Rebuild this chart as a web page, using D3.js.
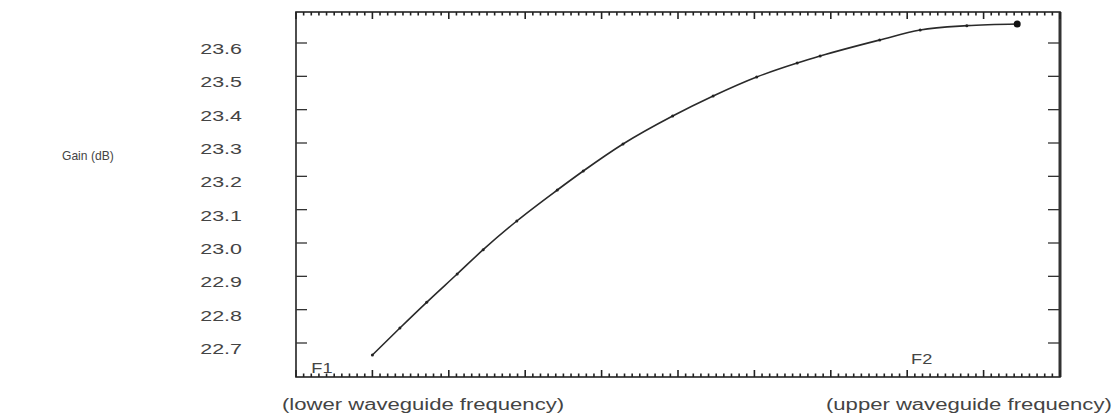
<!DOCTYPE html>
<html>
<head>
<meta charset="utf-8">
<script src="https://cdn.jsdelivr.net/npm/d3@7"></script>
<style>
  body { margin: 0; background: #fff; }
  text { font-family: "Liberation Sans", Arial, sans-serif; fill: #444; }
</style>
</head>
<body>
<div id="container"></div>
<script>
// frequency position (0..100 across the sweep) and measured gain
var freq = [10, 13.6, 17.1, 21.1, 24.5, 28.9, 34.2, 37.6, 42.8, 49.3, 54.6, 60.3, 65.6, 68.6, 76.4, 81.7, 87.8, 94.4];
var gain = [22.664, 22.745, 22.822, 22.907, 22.980, 23.066, 23.159, 23.216, 23.297, 23.381, 23.441, 23.498, 23.540, 23.561, 23.609, 23.639, 23.652, 23.657];

var yTicks = [23.6, 23.5, 23.4, 23.3, 23.2, 23.1, 23.0, 22.9, 22.8, 22.7];
var yLabels = ["23.6", "23.5", "23.4", "23.3", "23.2", "23.1", "23.0", "22.9", "22.8", "22.7"];

var markers = [{name: "F1", f: 2}, {name: "F2", f: 80.5}];

var width = 1112, height = 419;
var fLeft = 296, fRight = 1060, fTop = 12, fBottom = 377;

var x = d3.scaleLinear().domain([0, 100]).range([fLeft, fRight]);
var y = d3.scaleLinear().domain([22.7, 23.6]).range([343, 43]);

var svg = d3.select("#container").append("svg")
    .attr("width", width)
    .attr("height", height)

// frame
svg.append("rect")
    .attr("x", fLeft).attr("y", fTop)
    .attr("width", fRight - fLeft).attr("height", fBottom - fTop)
    .attr("fill", "none")
    .attr("stroke", "#222")
    .attr("stroke-width", 1.6)

svg.append("line")
    .attr("x1", fRight).attr("x2", fRight)
    .attr("y1", fTop).attr("y2", fBottom)
    .attr("stroke", "#333").attr("stroke-width", 3)

// x ticks, top and bottom, pointing inward
var xMinor = d3.range(0, 101, 1);

[fTop, fBottom].forEach(function(edge) {
  var dir = edge == fTop ? 1 : -1;
  svg.append("g").selectAll("line")
      .data(xMinor)
      .enter().append("line")
      .attr("x1", function(d) { return x(d) })
      .attr("x2", function(d) { return x(d) })
      .attr("y1", edge)
      .attr("y2", function(d) { return edge + dir * (d % 10 == 0 ? 7 : 3.5) })
      .attr("stroke", "#222")
      .attr("stroke-width", 1.6)
});

// y ticks on both sides
svg.append("g").selectAll("line")
    .data(yTicks)
    .enter().append("line")
    .attr("x1", fLeft).attr("x2", fLeft + 11)
    .attr("y1", function(d) { return y(d) })
    .attr("y2", function(d) { return y(d) })
    .attr("stroke", "#333").attr("stroke-width", 1.3)

svg.append("g").selectAll("line")
    .data(yTicks)
    .enter().append("line")
    .attr("x1", fRight - 12).attr("x2", fRight)
    .attr("y1", function(d) { return y(d) })
    .attr("y2", function(d) { return y(d) })
    .attr("stroke", "#333").attr("stroke-width", 1.3)

// y tick labels (source text is stretched sideways)
svg.append("g").selectAll("text")
    .data(yTicks)
    .enter().append("text")
    .attr("transform", function(d) { return "translate(242," + (y(d) + 11) + ") scale(1.43,1)" })
    .attr("text-anchor", "end")
    .style("font-size", "15px")
    .text(function(d, i) { return yLabels[i] })

svg.append("text")
    .attr("transform", "translate(62,160) scale(0.93,1)")
    .style("font-size", "13px")
    .text("Gain (dB)")

// curve
var pts = freq.map(function(f, i) { return [x(f), y(gain[i])] });

svg.append("path")
    .datum(pts)
    .attr("d", d3.line().curve(d3.curveMonotoneX))
    .attr("fill", "none")
    .attr("stroke", "#2a2a2a")
    .attr("stroke-width", 1.6)

svg.append("g").selectAll("circle")
    .data(pts.slice(0, -1))
    .enter().append("circle")
    .attr("cx", function(d) { return d[0] })
    .attr("cy", function(d) { return d[1] })
    .attr("r", 1.5)
    .attr("fill", "#222")

svg.append("circle")
    .attr("cx", pts[pts.length - 1][0])
    .attr("cy", pts[pts.length - 1][1])
    .attr("r", 3.5)
    .attr("fill", "#111")

// band edge markers
svg.append("g").selectAll("text")
    .data(markers)
    .enter().append("text")
    .attr("transform", function(d, i) { return "translate(" + x(d.f) + "," + (i == 0 ? 373 : 364) + ") scale(1.3,1)" })
    .style("font-size", "14px")
    .text(function(d) { return d.name })

svg.append("text")
    .attr("transform", "translate(282,410) scale(1.38,1)")
    .style("font-size", "16px")
    .text("(lower waveguide frequency)")

svg.append("text")
    .attr("transform", "translate(826,410) scale(1.38,1)")
    .style("font-size", "16px")
    .text("(upper waveguide frequency)")
</script>
</body>
</html>
